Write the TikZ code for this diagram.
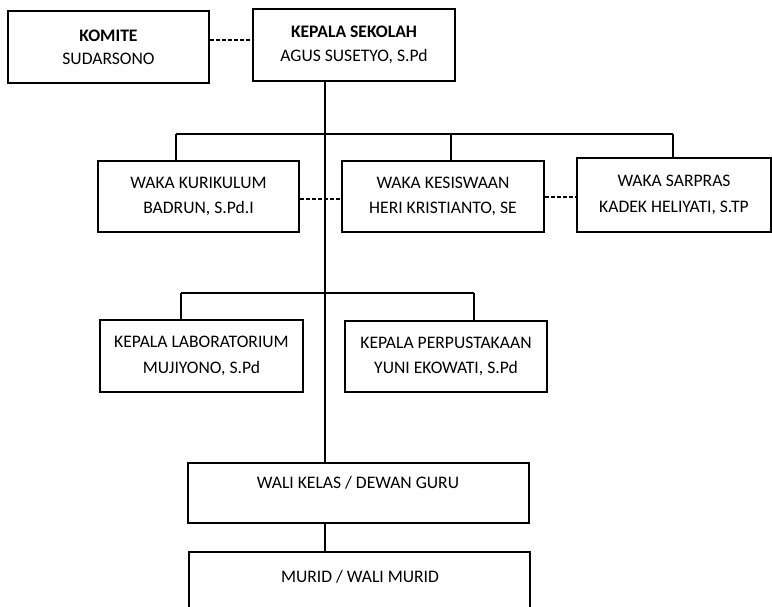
\documentclass[tikz,border=0pt]{standalone}
\usepackage{fontspec}
\setmainfont{Carlito}
\begin{document}
\begin{tikzpicture}[x=0.75pt,y=-0.75pt,
 box/.style={draw, line width=1.3pt, inner sep=0pt, align=center, font=\fontsize{13.2}{19}\selectfont},
 topbox/.style={box, font=\fontsize{13.2}{17.5}\selectfont},
 lbl/.style={inner sep=0pt, font=\fontsize{13.2}{19}\selectfont},
 conn/.style={line width=1.4pt},
 dsh/.style={line width=1.3pt, dash pattern=on 3pt off 1.5pt}]
\clip (0,0) rectangle (772,607);
\fill[white] (0,0) rectangle (772,607);
% boxes
\node[topbox, minimum width=201*0.75pt, minimum height=72*0.75pt] (komite) at (108.5,47) {\textbf{KOMITE}\\SUDARSONO};
\node[topbox, minimum width=202*0.75pt, minimum height=72*0.75pt] (kepala) at (354,45) {\textbf{KEPALA SEKOLAH}\\AGUS SUSETYO, S.Pd};
\node[box, minimum width=201*0.75pt, minimum height=71*0.75pt] (kur) at (198.5,196.5) {WAKA KURIKULUM\\BADRUN, S.Pd.I};
\node[box, minimum width=202*0.75pt, minimum height=71*0.75pt] (kes) at (443,196.5) {WAKA KESISWAAN\\HERI KRISTIANTO, SE};
\node[box, minimum width=194*0.75pt, minimum height=74*0.75pt] (sar) at (674,195) {WAKA SARPRAS\\KADEK HELIYATI, S.TP};
\node[box, minimum width=203*0.75pt, minimum height=72*0.75pt] (lab) at (201.5,356) {KEPALA LABORATORIUM\\MUJIYONO, S.Pd};
\node[box, minimum width=202*0.75pt, minimum height=71*0.75pt] (per) at (446,356.5) {KEPALA PERPUSTAKAAN\\YUNI EKOWATI, S.Pd};
\node[box, minimum width=341*0.75pt, minimum height=60*0.75pt] (wali) at (358.5,493) {};
\node[lbl] (walit) at (358,483) {WALI KELAS / DEWAN GURU};
\node[box, minimum width=341*0.75pt, minimum height=60*0.75pt] (murid) at (359.5,582) {};
\node[lbl] (muridt) at (360,577) {MURID / WALI MURID};
% helper coordinates
\coordinate (t) at (325,0);
\coordinate (b1l) at (176,134);
\coordinate (b1r) at (673,134);
\coordinate (b1k) at (451,134);
\coordinate (b2l) at (181,293);
\coordinate (b2r) at (474,293);
% dashed links
\draw[dsh] (komite.east |- 0,40) -- (kepala.west |- 0,40);
\draw[dsh] (kur.east |- 0,199) -- (kes.west |- 0,199);
\draw[dsh] (kes.east |- 0,197) -- (sar.west |- 0,197);
% trunk
\draw[conn] (kepala.south -| t) -- (wali.north -| t);
\draw[conn] (wali.south -| t) -- (murid.north -| t);
% first level bar
\draw[conn] (b1l) -- (b1r);
\draw[conn] (b1l) -- (kur.north -| b1l);
\draw[conn] (b1k) -- (kes.north -| b1k);
\draw[conn] (b1r) -- (sar.north -| b1r);
% second level bar
\draw[conn] (b2l) -- (b2r);
\draw[conn] (b2l) -- (lab.north -| b2l);
\draw[conn] (b2r) -- (per.north -| b2r);
\end{tikzpicture}
\end{document}
